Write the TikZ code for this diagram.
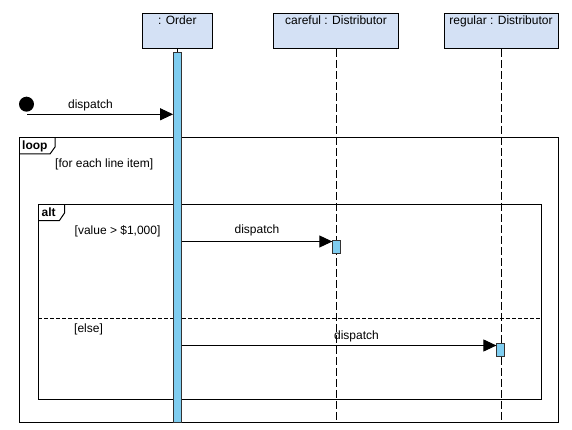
\documentclass[tikz,border=0pt]{standalone}
\usepackage{fontspec}
\setmainfont{Liberation Sans}
\usetikzlibrary{arrows.meta}
\definecolor{headfill}{HTML}{D4E1F5}
\definecolor{actfill}{HTML}{7FCDF0}
\begin{document}
\begin{tikzpicture}[x=1pt,y=-1pt, font=\fontsize{12}{14}\selectfont,
  lifebox/.style={draw=black, fill=headfill, line width=1pt, inner sep=0pt},
  actbar/.style={draw=black!80, fill=actfill, line width=0.9pt, inner sep=0pt, minimum width=7.5pt},
  lifeline/.style={line width=0.9pt, dash pattern=on 8pt off 3pt},
  msg/.style={line width=1pt, -{Triangle[length=13pt,width=12pt]}},
  fragment/.style={draw, line width=1pt, inner sep=0pt, anchor=north west},
  txt/.style={anchor=base west, inner sep=0pt},
  ctxt/.style={anchor=base, inner sep=0pt}]
\useasboundingbox (0,0) rectangle (572,430);
% fragments
\node[fragment, minimum width=538.5pt, minimum height=284.5pt] (loop) at (19.3,137.3) {};
\draw[line width=1pt] ([yshift=-16.7pt]loop.north west) -- ++(30.7,0) -- ++(5,-7) -- ++(0,-9.7);
\node[txt, font=\fontsize{12}{14}\selectfont\bfseries] (looplbl) at (22,149.3) {loop};
\node[txt] (loopguard) at (55,167.3) {[for each line item]};
\node[fragment, minimum width=502.7pt, minimum height=194.7pt] (alt) at (38.3,204.3) {};
\draw[line width=1pt] ([yshift=-16.4pt]alt.north west) -- ++(21,0) -- ++(5.3,-7.8) -- ++(0,-8.6);
\node[txt, font=\fontsize{12}{14}\selectfont\bfseries] (altlbl) at (41.5,216.7) {alt};
\node[txt] (guard1) at (74.5,234.3) {[value > \$1,000]};
\coordinate (sep) at (0,318.3);
\draw[line width=1pt, dash pattern=on 4pt off 2pt] (alt.west |- sep) -- (alt.east |- sep);
\node[txt] (guard2) at (74,332.7) {[else]};
% lifeline heads
\node[lifebox, minimum width=70pt, minimum height=35pt] (order) at (177.3,30.8) {};
\node[ctxt] (orderlbl) at (177.3,24.8) {: Order};
\node[lifebox, minimum width=125pt, minimum height=35pt] (careful) at (336,30.8) {};
\node[ctxt] (carefullbl) at (336,24.8) {careful : Distributor};
\node[lifebox, minimum width=114pt, minimum height=35pt] (regular) at (501,30.8) {};
\node[ctxt] (regularlbl) at (501,24.8) {regular : Distributor};
% lifelines
\coordinate (bottom) at (0,421.5);
\draw[lifeline] (careful.south) -- (careful.south |- bottom);
\draw[lifeline] (regular.south) -- (regular.south |- bottom);
% activations
\node[actbar, minimum height=370pt] (oact) at (177.3,237) {};
\draw[line width=0.8pt] (order.south) -- (oact.north);
\node[actbar, minimum height=13pt] (cact) at (336.5,246.7) {};
\node[actbar, minimum height=13pt] (ract) at (500.6,350.4) {};
% start
\node[circle, fill=black, minimum size=15pt, inner sep=0pt] (start) at (26.5,104.2) {};
\coordinate (m0) at (27,114.3);
\draw[msg] (m0) -- (m0 -| oact.west);
\node[ctxt] (d0) at (90.5,108.3) {dispatch};
% messages
\coordinate (m1) at (0,241.5);
\draw[msg] (oact.east |- m1) -- (cact.west |- m1);
\node[ctxt] (d1) at (257,233.3) {dispatch};
\coordinate (m2) at (0,345.5);
\draw[msg] (oact.east |- m2) -- (ract.west |- m2);
\node[ctxt] (d2) at (356.5,339.3) {dispatch};
\end{tikzpicture}
\end{document}
